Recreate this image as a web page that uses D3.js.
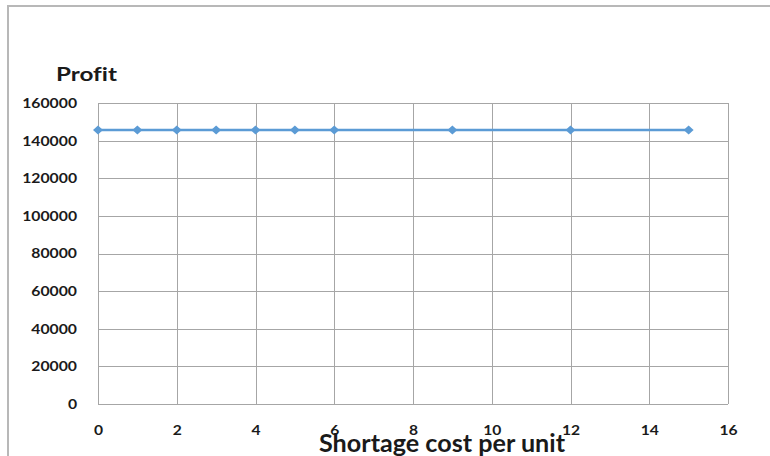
<!DOCTYPE html>
<html>
<head>
<meta charset="utf-8">
<script src="https://cdn.jsdelivr.net/npm/d3@7/dist/d3.min.js"></script>
<style>
  html, body { margin: 0; padding: 0; background: #fff; }
  svg { display: block; }
  text { font-family: Lato, "Open Sans", sans-serif; font-weight: bold; fill: #1a1a1a; font-variant-ligatures: none; }
</style>
</head>
<body>
<svg id="chart" width="770" height="456"></svg>
<script>
// Profit versus shortage cost per unit
const shortageCost = [0, 1, 2, 3, 4, 5, 6, 9, 12, 15];
const profit = [145600, 145600, 145600, 145600, 145600, 145600, 145600, 145600, 145600, 145600];
const xTicks = [0, 2, 4, 6, 8, 10, 12, 14, 16];
const yTicks = [0, 20000, 40000, 60000, 80000, 100000, 120000, 140000, 160000];
const yTitle = "Profit";
const xTitle = "Shortage cost per unit";

const svg = d3.select("#chart");
const plot = { left: 98, top: 103, right: 728, bottom: 404 };

const x = d3.scaleLinear().domain([0, 16]).range([plot.left, plot.right]);
const y = d3.scaleLinear().domain([0, 160000]).range([plot.bottom, plot.top]);

// outer frame (left and top edges visible)
svg.append("path")
  .attr("d", "M8,456 L8,6 L770,6")
  .attr("fill", "none")
  .attr("stroke", "#b8b8b8")
  .attr("stroke-width", 2);

// gridlines
const grid = svg.append("g").attr("stroke", "#a6a6a6").attr("stroke-width", 1).attr("shape-rendering", "crispEdges");
grid.selectAll(".gx").data(xTicks).join("line")
  .attr("x1", d => Math.round(x(d)) + 0.5).attr("x2", d => Math.round(x(d)) + 0.5)
  .attr("y1", plot.top).attr("y2", plot.bottom);
grid.selectAll(".gy").data(yTicks).join("line")
  .attr("y1", d => Math.round(y(d)) + 0.5).attr("y2", d => Math.round(y(d)) + 0.5)
  .attr("x1", plot.left).attr("x2", plot.right);

// axes (labels only, no domain or tick marks)
const yAxis = svg.append("g")
  .attr("transform", `translate(${plot.left},0)`)
  .call(d3.axisLeft(y).tickValues(yTicks).tickFormat(d3.format("d")).tickSize(0).tickPadding(21));
const xAxis = svg.append("g")
  .attr("transform", `translate(0,${plot.bottom})`)
  .call(d3.axisBottom(x).tickValues(xTicks).tickFormat(d3.format("d")).tickSize(0).tickPadding(21));
[yAxis, xAxis].forEach(a => a.select(".domain").remove());

function widen(sel, factor) {
  sel.each(function () {
    const w = this.getComputedTextLength();
    d3.select(this).attr("textLength", w * factor).attr("lengthAdjust", "spacingAndGlyphs");
  });
}
yAxis.selectAll("text").attr("font-size", 12.5).attr("fill", "#1a1a1a").attr("dy", "0.35em")
  .call(widen, 1.26);
xAxis.selectAll("text").attr("font-size", 12.5).attr("fill", "#1a1a1a").attr("dy", "0.35em")
  .attr("y", 27).call(widen, 1.25);

// series line
const line = d3.line().x((d, i) => x(shortageCost[i])).y(d => y(d));
svg.append("path")
  .datum(profit)
  .attr("d", line)
  .attr("fill", "none")
  .attr("stroke", "#5b9bd5")
  .attr("stroke-width", 2.5);

// diamond markers
svg.selectAll(".pt").data(profit).join("path")
  .attr("transform", (d, i) => `translate(${x(shortageCost[i])},${y(d)})`)
  .attr("d", "M0,-4.5 L5,0 L0,4.5 L-5,0 Z")
  .attr("fill", "#5b9bd5");

// titles
svg.append("text").attr("x", 56).attr("y", 81).attr("font-size", 19)
  .attr("textLength", 61).attr("lengthAdjust", "spacingAndGlyphs").text(yTitle);
svg.append("text").attr("x", 319).attr("y", 452).attr("font-size", 25)
  .attr("textLength", 246).attr("lengthAdjust", "spacingAndGlyphs").text(xTitle);
</script>
</body>
</html>
